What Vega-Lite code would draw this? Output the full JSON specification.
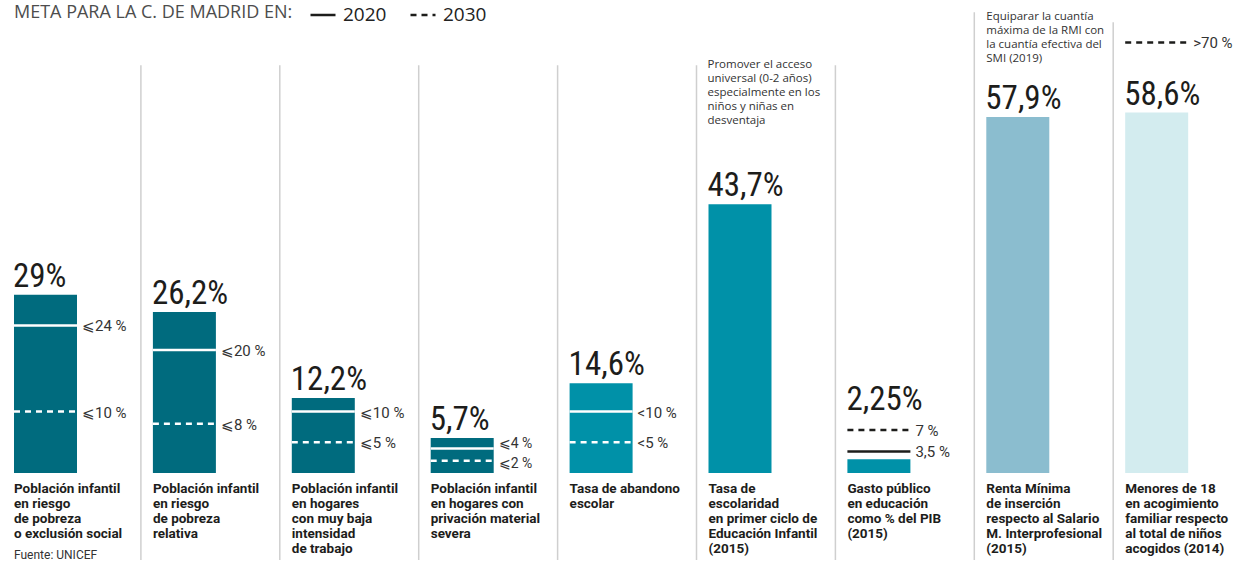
{
  "$schema": "https://vega.github.io/schema/vega-lite/v6.json",
  "description": "Metas de la Comunidad de Madrid para indicadores de infancia: valor actual y metas 2020 y 2030.",
  "width": 1240,
  "height": 578,
  "autosize": {"type": "none"},
  "padding": 0,
  "background": "#ffffff",
  "config": {
    "view": {"stroke": null},
    "axis": {"disable": true},
    "font": "Roboto"
  },
  "datasets": {
    "barras": [
      {"n": 1, "valor": 29, "etiqueta": "29%", "grupo": "oscuro", "categoria": "Población infantil\nen riesgo\nde pobreza\no exclusión social"},
      {"n": 2, "valor": 26.2, "etiqueta": "26,2%", "grupo": "oscuro", "categoria": "Población infantil\nen riesgo\nde pobreza\nrelativa"},
      {"n": 3, "valor": 12.2, "etiqueta": "12,2%", "grupo": "oscuro", "categoria": "Población infantil\nen hogares\ncon muy baja\nintensidad\nde trabajo"},
      {"n": 4, "valor": 5.7, "etiqueta": "5,7%", "grupo": "oscuro", "categoria": "Población infantil\nen hogares con\nprivación material\nsevera"},
      {"n": 5, "valor": 14.6, "etiqueta": "14,6%", "grupo": "medio", "categoria": "Tasa de abandono\nescolar"},
      {"n": 6, "valor": 43.7, "etiqueta": "43,7%", "grupo": "medio", "categoria": "Tasa de\nescolaridad\nen primer ciclo de\nEducación Infantil\n(2015)"},
      {"n": 7, "valor": 2.25, "etiqueta": "2,25%", "grupo": "medio", "categoria": "Gasto público\nen educación\ncomo % del PIB\n(2015)"},
      {"n": 8, "valor": 57.9, "etiqueta": "57,9%", "grupo": "claro", "categoria": "Renta Mínima\nde inserción\nrespecto al Salario\nM. Interprofesional\n(2015)"},
      {"n": 9, "valor": 58.6, "etiqueta": "58,6%", "grupo": "palido", "categoria": "Menores de 18\nen acogimiento\nfamiliar respecto\nal total de niños\nacogidos (2014)"}
    ],
    "metas": [
      {"n": 1, "anio": "2020", "meta": 24, "texto": "⩽24 %", "tono": "blanco"},
      {"n": 1, "anio": "2030", "meta": 10, "texto": "⩽10 %", "tono": "blanco"},
      {"n": 2, "anio": "2020", "meta": 20, "texto": "⩽20 %", "tono": "blanco"},
      {"n": 2, "anio": "2030", "meta": 8, "texto": "⩽8 %", "tono": "blanco"},
      {"n": 3, "anio": "2020", "meta": 10, "texto": "⩽10 %", "tono": "blanco"},
      {"n": 3, "anio": "2030", "meta": 5, "texto": "⩽5 %", "tono": "blanco"},
      {"n": 4, "anio": "2020", "meta": 4, "texto": "⩽4 %", "tono": "blanco"},
      {"n": 4, "anio": "2030", "meta": 2, "texto": "⩽2 %", "tono": "blanco"},
      {"n": 5, "anio": "2020", "meta": 10, "texto": "<10 %", "tono": "blanco"},
      {"n": 5, "anio": "2030", "meta": 5, "texto": "<5 %", "tono": "blanco"},
      {"n": 7, "anio": "2020", "meta": 3.5, "texto": "3,5 %", "tono": "negro"},
      {"n": 7, "anio": "2030", "meta": 7, "texto": "7 %", "tono": "negro"},
      {"n": 9, "anio": "2030", "meta": 70, "texto": ">70 %", "tono": "negro"}
    ],
    "notas": [
      {"n": 1, "texto": "Fuente: UNICEF"},
      {"n": 6, "texto": "Promover el acceso\nuniversal (0-2 años)\nespecialmente en los\nniños y niñas en\ndesventaja"},
      {"n": 8, "texto": "Equiparar la cuantía\nmáxima de la RMI con\nla cuantía efectiva del\nSMI (2019)"}
    ]
  },
  "layer": [
    {
      "data": {"name": "barras"},
      "transform": [{"filter": "datum.n >= 2 && datum.n <= 7"}],
      "mark": {"type": "rule", "color": "#cfcfcf", "strokeWidth": 1.5},
      "encoding": {
        "x": {"field": "n", "type": "quantitative", "scale": {"domain": [0.9856, 9.9129], "nice": false, "zero": false}},
        "y": {"datum": 66.3, "type": "quantitative", "scale": {"domain": [-17.07, 76.91], "nice": false, "zero": false}},
        "y2": {"datum": -14.15}
      }
    },
    {
      "data": {"name": "barras"},
      "transform": [{"filter": "datum.n == 8"}],
      "mark": {"type": "rule", "color": "#cfcfcf", "strokeWidth": 1.5},
      "encoding": {
        "x": {"field": "n", "type": "quantitative"},
        "y": {"datum": 74.9, "type": "quantitative"},
        "y2": {"datum": -14.15}
      }
    },
    {
      "data": {"name": "barras"},
      "transform": [{"filter": "datum.n == 9"}],
      "mark": {"type": "rule", "color": "#cfcfcf", "strokeWidth": 1.5},
      "encoding": {
        "x": {"field": "n", "type": "quantitative"},
        "y": {"datum": 73.3, "type": "quantitative"},
        "y2": {"datum": -14.15}
      }
    },
    {
      "data": {"name": "barras"},
      "mark": {"type": "rect", "xOffset": 12, "x2Offset": 75},
      "encoding": {
        "x": {"field": "n", "type": "quantitative"},
        "x2": {"field": "n"},
        "y": {"field": "valor", "type": "quantitative"},
        "y2": {"datum": 0},
        "fill": {
          "field": "grupo", "type": "nominal", "legend": null,
          "scale": {"domain": ["oscuro", "medio", "claro", "palido"], "range": ["#006b7e", "#0091a8", "#8bbdcf", "#d3ecef"]}
        }
      }
    },
    {
      "data": {"name": "metas"},
      "mark": {"type": "rule", "xOffset": 12, "x2Offset": 75, "strokeWidth": 2.5},
      "encoding": {
        "x": {"field": "n", "type": "quantitative"},
        "x2": {"field": "n"},
        "y": {"field": "meta", "type": "quantitative"},
        "stroke": {
          "field": "tono", "type": "nominal", "legend": null,
          "scale": {"domain": ["blanco", "negro"], "range": ["#ffffff", "#1d1d1b"]}
        },
        "strokeDash": {
          "field": "anio", "type": "nominal",
          "scale": {"domain": ["2020", "2030"], "range": [[1, 0], [6, 5]]},
          "legend": {
            "title": "META PARA LA C. DE MADRID EN:",
            "orient": "none",
            "legendX": 14,
            "legendY": 1,
            "direction": "horizontal",
            "titleOrient": "left",
            "titleFont": "Open Sans",
            "titleFontSize": 18,
            "titleFontWeight": "normal",
            "titleColor": "#4d4d4d",
            "titleLimit": 500,
            "titlePadding": 16,
            "labelFont": "Open Sans",
            "labelFontSize": 19,
            "labelColor": "#222222",
            "labelOffset": 6,
            "symbolType": "stroke",
            "symbolSize": 625,
            "symbolStrokeWidth": 2.5,
            "symbolStrokeColor": "#1d1d1b",
            "columnPadding": 18
          }
        }
      }
    },
    {
      "data": {"name": "metas"},
      "transform": [{"filter": "datum.n != 4"}],
      "mark": {"type": "text", "xOffset": 80, "dy": 1, "align": "left", "baseline": "middle", "fontSize": 15, "color": "#333333"},
      "encoding": {
        "x": {"field": "n", "type": "quantitative"},
        "y": {"field": "meta", "type": "quantitative"},
        "text": {"field": "texto"}
      }
    },
    {
      "data": {"name": "metas"},
      "transform": [{"filter": "datum.n == 4 && datum.anio == '2020'"}],
      "mark": {"type": "text", "xOffset": 80, "dy": -4, "align": "left", "baseline": "middle", "fontSize": 14, "color": "#333333"},
      "encoding": {
        "x": {"field": "n", "type": "quantitative"},
        "y": {"field": "meta", "type": "quantitative"},
        "text": {"field": "texto"}
      }
    },
    {
      "data": {"name": "metas"},
      "transform": [{"filter": "datum.n == 4 && datum.anio == '2030'"}],
      "mark": {"type": "text", "xOffset": 80, "dy": 3, "align": "left", "baseline": "middle", "fontSize": 14, "color": "#333333"},
      "encoding": {
        "x": {"field": "n", "type": "quantitative"},
        "y": {"field": "meta", "type": "quantitative"},
        "text": {"field": "texto"}
      }
    },
    {
      "data": {"name": "barras"},
      "transform": [{"filter": "datum.n != 7"}],
      "mark": {"type": "text", "xOffset": 11, "dy": -8, "align": "left", "baseline": "alphabetic", "font": "Roboto Condensed, Roboto", "fontSize": 33, "color": "#1d1d1b"},
      "encoding": {
        "x": {"field": "n", "type": "quantitative"},
        "y": {"field": "valor", "type": "quantitative"},
        "text": {"field": "etiqueta"}
      }
    },
    {
      "data": {"name": "barras"},
      "transform": [{"filter": "datum.n == 7"}],
      "mark": {"type": "text", "xOffset": 11, "dy": -20, "align": "left", "baseline": "alphabetic", "font": "Roboto Condensed, Roboto", "fontSize": 33, "color": "#1d1d1b"},
      "encoding": {
        "x": {"field": "n", "type": "quantitative"},
        "y": {"datum": 7, "type": "quantitative"},
        "text": {"field": "etiqueta"}
      }
    },
    {
      "data": {"name": "barras"},
      "mark": {"type": "text", "xOffset": 12, "dy": 9, "align": "left", "baseline": "top", "fontSize": 13.5, "fontWeight": "bold", "lineHeight": 15, "lineBreak": "\n", "color": "#1d1d1b"},
      "encoding": {
        "x": {"field": "n", "type": "quantitative"},
        "y": {"datum": 0, "type": "quantitative"},
        "text": {"field": "categoria"}
      }
    },
    {
      "data": {"name": "notas"},
      "transform": [{"filter": "datum.n == 1"}],
      "mark": {"type": "text", "xOffset": 12, "align": "left", "baseline": "alphabetic", "fontSize": 12, "color": "#333333"},
      "encoding": {
        "x": {"field": "n", "type": "quantitative"},
        "y": {"datum": -13.98, "type": "quantitative"},
        "text": {"field": "texto"}
      }
    },
    {
      "data": {"name": "notas"},
      "transform": [{"filter": "datum.n == 6"}],
      "mark": {"type": "text", "xOffset": 11, "align": "left", "baseline": "top", "font": "Open Sans", "fontSize": 11.5, "lineHeight": 14, "lineBreak": "\n", "color": "#333333"},
      "encoding": {
        "x": {"field": "n", "type": "quantitative"},
        "y": {"datum": 67.3, "type": "quantitative"},
        "text": {"field": "texto"}
      }
    },
    {
      "data": {"name": "notas"},
      "transform": [{"filter": "datum.n == 8"}],
      "mark": {"type": "text", "xOffset": 12, "align": "left", "baseline": "top", "font": "Open Sans", "fontSize": 11.5, "lineHeight": 14, "lineBreak": "\n", "color": "#333333"},
      "encoding": {
        "x": {"field": "n", "type": "quantitative"},
        "y": {"datum": 75.2, "type": "quantitative"},
        "text": {"field": "texto"}
      }
    }
  ]
}
